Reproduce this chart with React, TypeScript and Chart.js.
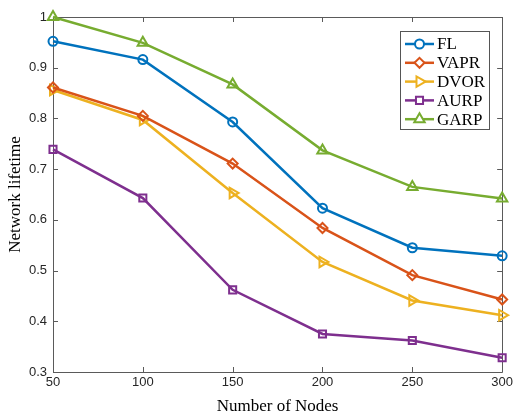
import React, { useEffect, useRef } from "react";
import { Chart, registerables } from "chart.js";
import { drawPoint } from "chart.js/helpers";

Chart.register(...registerables);

const nodes = [50, 100, 150, 200, 250, 300];
const seriesNames = ["FL", "VAPR", "DVOR", "AURP", "GARP"];
const fl = [0.952, 0.916, 0.793, 0.623, 0.545, 0.529];
const vapr = [0.861, 0.805, 0.711, 0.584, 0.491, 0.443];
const dvor = [0.856, 0.797, 0.653, 0.517, 0.441, 0.412];
const aurp = [0.739, 0.643, 0.462, 0.375, 0.362, 0.328];
const garp = [1.0, 0.949, 0.867, 0.737, 0.665, 0.642];
const xTicks = [50, 100, 150, 200, 250, 300];
const yTicks = [0.3, 0.4, 0.5, 0.6, 0.7, 0.8, 0.9, 1];

const colors = ["#0072BD", "#D95319", "#EDB120", "#7E2F8E", "#77AC30"];
const markers = ["circle", "rectRot", "triangle", "rect", "triangle"];
const markerRot = [0, 0, 90, 0, 0];
const markerRad = [4.5, 5, 6, 5, 6];

const AXIS_COLOR = "#262626";

const boxPlugin = {
  id: "matlabBox",
  beforeDatasetsDraw(chart: any) {
    const { ctx, chartArea: a, scales } = chart;
    const x = scales.x;
    const y = scales.y;
    ctx.save();
    ctx.strokeStyle = "#5a5a5a";
    ctx.lineWidth = 1;
    ctx.beginPath();
    ctx.rect(Math.round(a.left) + 0.5, Math.round(a.top) + 0.5, Math.round(a.right - a.left), Math.round(a.bottom - a.top));
    ctx.stroke();
    const tl = 5;
    ctx.beginPath();
    for (const t of xTicks) {
      const px = Math.round(x.getPixelForValue(t)) + 0.5;
      ctx.moveTo(px, a.bottom);
      ctx.lineTo(px, a.bottom - tl);
      ctx.moveTo(px, a.top);
      ctx.lineTo(px, a.top + tl);
    }
    for (const t of yTicks) {
      const py = Math.round(y.getPixelForValue(t)) + 0.5;
      ctx.moveTo(a.left, py);
      ctx.lineTo(a.left + tl, py);
      ctx.moveTo(a.right, py);
      ctx.lineTo(a.right - tl, py);
    }
    ctx.stroke();
    ctx.restore();
  },
  afterDraw(chart: any) {
    const { ctx } = chart;
    const bx = 400.5, by = 31.5, bw = 89, bh = 98;
    ctx.save();
    ctx.fillStyle = "#ffffff";
    ctx.fillRect(bx, by, bw, bh);
    ctx.strokeStyle = "#555555";
    ctx.lineWidth = 1;
    ctx.strokeRect(bx, by, bw, bh);
    chart.data.datasets.forEach((ds: any, i: number) => {
      const cy = 44 + i * 18.8;
      ctx.strokeStyle = ds.borderColor;
      ctx.lineWidth = 2.5;
      ctx.beginPath();
      ctx.moveTo(405, cy);
      ctx.lineTo(434, cy);
      ctx.stroke();
      ctx.lineWidth = 2;
      ctx.fillStyle = "#ffffff";
      drawPoint(ctx, {
        pointStyle: ds.pointStyle,
        radius: ds.pointRadius,
        rotation: ds.pointRotation,
        borderWidth: 2,
      } as any, 419.5, cy);
      ctx.fillStyle = "#000000";
      ctx.font = "17px 'Liberation Serif'";
      ctx.textBaseline = "middle";
      ctx.textAlign = "left";
      ctx.fillText(ds.label, 437, cy + 1);
    });
    ctx.restore();
  },
};

export default function App() {
  const ref = useRef<HTMLCanvasElement>(null);
  useEffect(() => {
    const all = [fl, vapr, dvor, aurp, garp];
    const chart = new Chart(ref.current!, {
      type: "line",
      data: {
        datasets: all.map((vals, i) => ({
          label: seriesNames[i],
          data: nodes.map((n, j) => ({ x: n, y: vals[j] })),
          borderColor: colors[i],
          backgroundColor: "rgba(0,0,0,0)",
          borderWidth: 2.5,
          pointStyle: markers[i],
          pointRotation: markerRot[i],
          pointRadius: markerRad[i],
          pointBorderWidth: 2,
          pointBackgroundColor: "rgba(0,0,0,0)",
          pointBorderColor: colors[i],
          tension: 0,
          clip: false,
        })),
      },
      options: {
        responsive: false,
        animation: false,
        layout: { padding: { top: 17, right: 13, left: 0, bottom: 0 } },
        plugins: { legend: { display: false }, tooltip: { enabled: false } },
        scales: {
          x: {
            type: "linear",
            min: 50,
            max: 300,
            afterFit: (s: any) => { s.height = 43; },
            afterBuildTicks: (s: any) => { s.ticks = xTicks.map((v) => ({ value: v })); },
            grid: { display: false, drawTicks: false },
            border: { display: false },
            ticks: {
              padding: 3,
              color: AXIS_COLOR,
              font: { family: "'Liberation Sans'", size: 13 },
              maxRotation: 0,
              autoSkip: false,
            },
            title: {
              display: true,
              text: "Number of Nodes",
              color: "#000000",
              font: { family: "'Liberation Serif'", size: 17, lineHeight: 1 },
              padding: { top: 0, bottom: 0 },
            },
          },
          y: {
            type: "linear",
            min: 0.3,
            max: 1,
            afterFit: (s: any) => { s.width = 53; },
            afterBuildTicks: (s: any) => { s.ticks = yTicks.map((v) => ({ value: v })); },
            grid: { display: false, drawTicks: false },
            border: { display: false },
            ticks: {
              padding: 6,
              color: AXIS_COLOR,
              font: { family: "'Liberation Sans'", size: 13 },
              autoSkip: false,
              callback: (v: any) => String(Number(Number(v).toFixed(1))),
            },
            title: {
              display: true,
              text: "Network lifetime",
              color: "#000000",
              font: { family: "'Liberation Serif'", size: 17, lineHeight: 1 },
              padding: { top: 7, bottom: 0 },
            },
          },
        },
      },
      plugins: [boxPlugin],
    });
    return () => chart.destroy();
  }, []);
  return (
    <div style={{ position: "fixed", left: 0, top: 0, width: 516, height: 415, background: "#fff" }}>
      <canvas ref={ref} width={516} height={415} style={{ display: "block" }} />
    </div>
  );
}
